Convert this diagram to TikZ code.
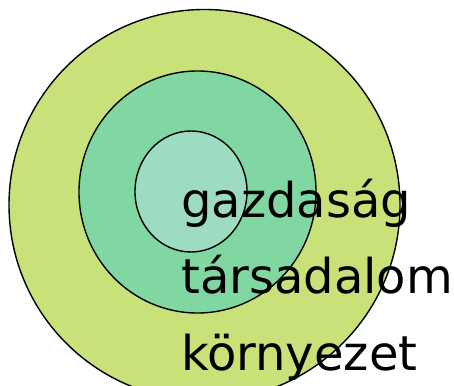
\documentclass[tikz,border=0pt]{standalone}
\usepackage{fontspec}
\setmainfont{DejaVu Sans}
\usetikzlibrary{shapes.geometric}
\definecolor{ringOuter}{HTML}{C8E178}
\definecolor{ringMiddle}{HTML}{80D7A1}
\definecolor{ringInner}{HTML}{9DDCC0}
\tikzset{
  ringfig/.style={x=1pt, y=1pt},
  ring/.style={ellipse, draw=black, line width=1.4pt, inner sep=0pt},
  outerring/.style={ring, fill=ringOuter, minimum width=391pt, minimum height=391pt},
  middlering/.style={ring, fill=ringMiddle, minimum width=237pt, minimum height=242pt},
  innerring/.style={ring, fill=ringInner, minimum width=112pt, minimum height=121pt},
  % Beschriftungen rechts neben der Mitte, untereinander
  ringlabel/.style={anchor=base west, inner sep=0pt, font=\fontsize{48}{57}\selectfont},
}
\begin{document}
\begin{tikzpicture}[ringfig]
  \useasboundingbox (0,0) rectangle (454,385);
  \clip (0,0) rectangle (454,385);
  \node[outerring] (Kornyezet) at (204.5,180) {};
  \node[middlering] (Tarsadalom) at (197.5,193) {};
  \node[innerring] (Gazdasag) at (191,193.5) {};
  \node[ringlabel] (GazdasagText) at (181,167) {gazdaság};
  \node[ringlabel] (TarsadalomText) at (181,92) {társadalom};
  \node[ringlabel] (KornyezetText) at (181,15) {környezet};
\end{tikzpicture}
\end{document}
